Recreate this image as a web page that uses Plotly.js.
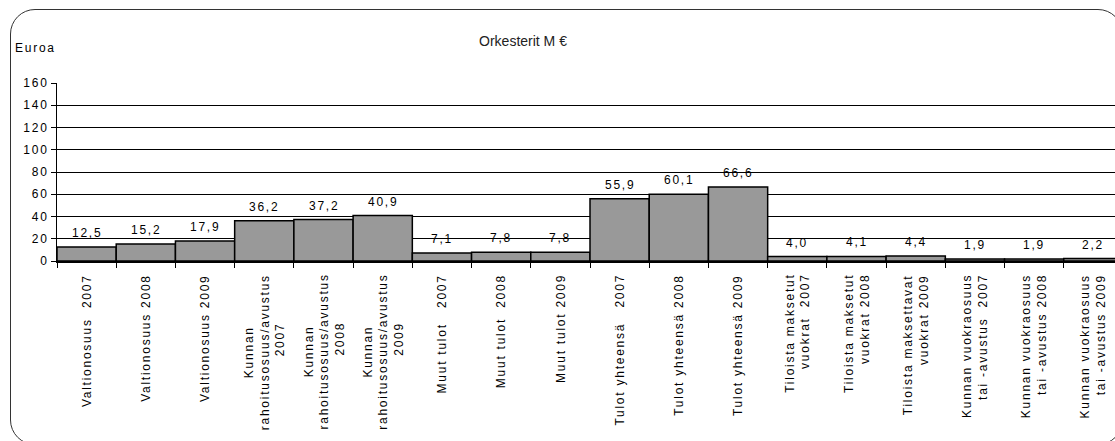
<!DOCTYPE html>
<html>
<head>
<meta charset="utf-8">
<script src="https://cdn.plot.ly/plotly-3.0.1.min.js"></script>
<style>
  html, body { margin: 0; padding: 0; overflow: hidden; background: #fff; }
  #wrap { position: relative; width: 1115px; height: 441px; overflow: hidden; }
  #frame { position: absolute; left: 10px; top: 9px; width: 1113px; height: 436px;
           border: 1px solid #333; border-radius: 25px; box-sizing: border-box; }
  #chart { position: absolute; left: 0; top: 0; width: 1123px; height: 441px; }
  .ytick text, .annotation-text { letter-spacing: 1.75px; }
</style>
</head>
<body>
<div id="wrap">
  <div id="frame"></div>
  <div id="chart"></div>
</div>
<script>
const NB = '\u00a0';
const categories = [
  'Valtionosuus' + NB + NB + '2007',
  'Valtionosuus 2008',
  'Valtionosuus 2009',
  'Kunnan<br>rahoitusosuus/avustus<br>' + NB.repeat(5) + '2007',
  'Kunnan<br>rahoitusosuus/avustus<br>' + NB.repeat(5) + '2008',
  'Kunnan<br>rahoitusosuus/avustus<br>' + NB.repeat(5) + '2009',
  'Muut tulot' + NB + NB + NB + '2007',
  'Muut tulot' + NB + NB + '2008',
  'Muut tulot 2009',
  'Tulot yhteensä' + NB + NB + NB + '2007',
  'Tulot yhteensä 2008',
  'Tulot yhteensä 2009',
  'Tiloista maksetut<br>vuokrat' + NB + NB + '2007',
  'Tiloista maksetut<br>vuokrat 2008',
  'Tiloista maksettavat<br>vuokrat 2009',
  'Kunnan vuokraosuus<br>tai -avustus' + NB + NB + '2007',
  'Kunnan vuokraosuus<br>tai -avustus 2008',
  'Kunnan vuokraosuus<br>tai -avustus 2009'
];
const labelAlign = ['right', 'right', 'right', 'center', 'center', 'center',
  'right', 'right', 'right', 'right', 'right', 'right',
  'right', 'right', 'right', 'right', 'right', 'right'];
const values = [12.5, 15.2, 17.9, 36.2, 37.2, 40.9, 7.1, 7.8, 7.8, 55.9, 60.1, 66.6, 4.0, 4.1, 4.4, 1.9, 1.9, 2.2];
const yTicks = [0, 20, 40, 60, 80, 100, 120, 140, 160];
const chartTitle = 'Orkesterit M €';
const yTitle = 'Euroa';

const FONT = 'Arial, "Liberation Sans", Helvetica, sans-serif';
const fmt = v => v.toFixed(1).replace('.', ',');

const trace = {
  type: 'bar',
  x: categories.map((c, i) => i),
  y: values,
  marker: { color: '#999999', line: { color: '#000', width: 1.5 } },
  hoverinfo: 'none'
};

const annotations = [{
  text: yTitle, xref: 'paper', yref: 'paper',
  x: (12.7 - 57) / 1066, xanchor: 'left',
  y: (261 - 48) / 178, yanchor: 'middle',
  showarrow: false,
  font: { family: FONT, size: 12, color: '#000' }
}];

// value labels above bars
values.forEach((v, i) => annotations.push({
  text: fmt(v), xref: 'x', yref: 'y', x: i, y: v,
  xanchor: 'center', yanchor: 'bottom', yshift: 5,
  showarrow: false,
  font: { family: FONT, size: 12, color: '#000' }
}));

// category labels (rotated) under the axis
categories.forEach((c, i) => annotations.push({
  text: c, xref: 'x', yref: 'paper', x: i, y: (261 - 273) / 178,
  xanchor: 'center', yanchor: 'top', textangle: -90, align: labelAlign[i],
  showarrow: false, borderpad: 0,
  font: { family: FONT, size: 12, color: '#000' }
}));

const layout = {
  width: 1123, height: 441,
  margin: { l: 57, r: 0, t: 83, b: 180, pad: 0 },
  paper_bgcolor: 'rgba(0,0,0,0)',
  plot_bgcolor: 'rgba(0,0,0,0)',
  bargap: 0,
  showlegend: false,
  font: { family: FONT, size: 12, color: '#000' },
  title: {
    text: chartTitle,
    font: { family: FONT, size: 14, color: '#222' },
    x: 523 / 1123, xanchor: 'center', xref: 'container',
    y: 1 - 41 / 441, yanchor: 'middle', yref: 'container'
  },
  xaxis: {
    type: 'linear',
    range: [-0.5, categories.length - 0.5],
    tickvals: categories.map((c, i) => i - 0.5).concat([categories.length - 0.5]),
    showticklabels: false,
    ticks: 'outside', ticklen: 5, tickcolor: '#000', tickwidth: 1,
    showline: true, linecolor: '#000', linewidth: 2,
    showgrid: false, zeroline: false,
    automargin: false
  },
  yaxis: {
    range: [0, 160],
    tickvals: yTicks,
    ticks: 'outside', ticklen: 5, tickcolor: '#000', tickwidth: 1,
    showline: true, linecolor: '#000', linewidth: 1,
    showgrid: true, gridcolor: '#000', gridwidth: 1,
    zeroline: false,
    tickfont: { family: FONT, size: 12, color: '#000' },
    ticklabelstandoff: 0,
    automargin: false
  },
  annotations: annotations
};

Plotly.newPlot('chart', [trace], layout, { staticPlot: true, displayModeBar: false });
</script>
</body>
</html>
